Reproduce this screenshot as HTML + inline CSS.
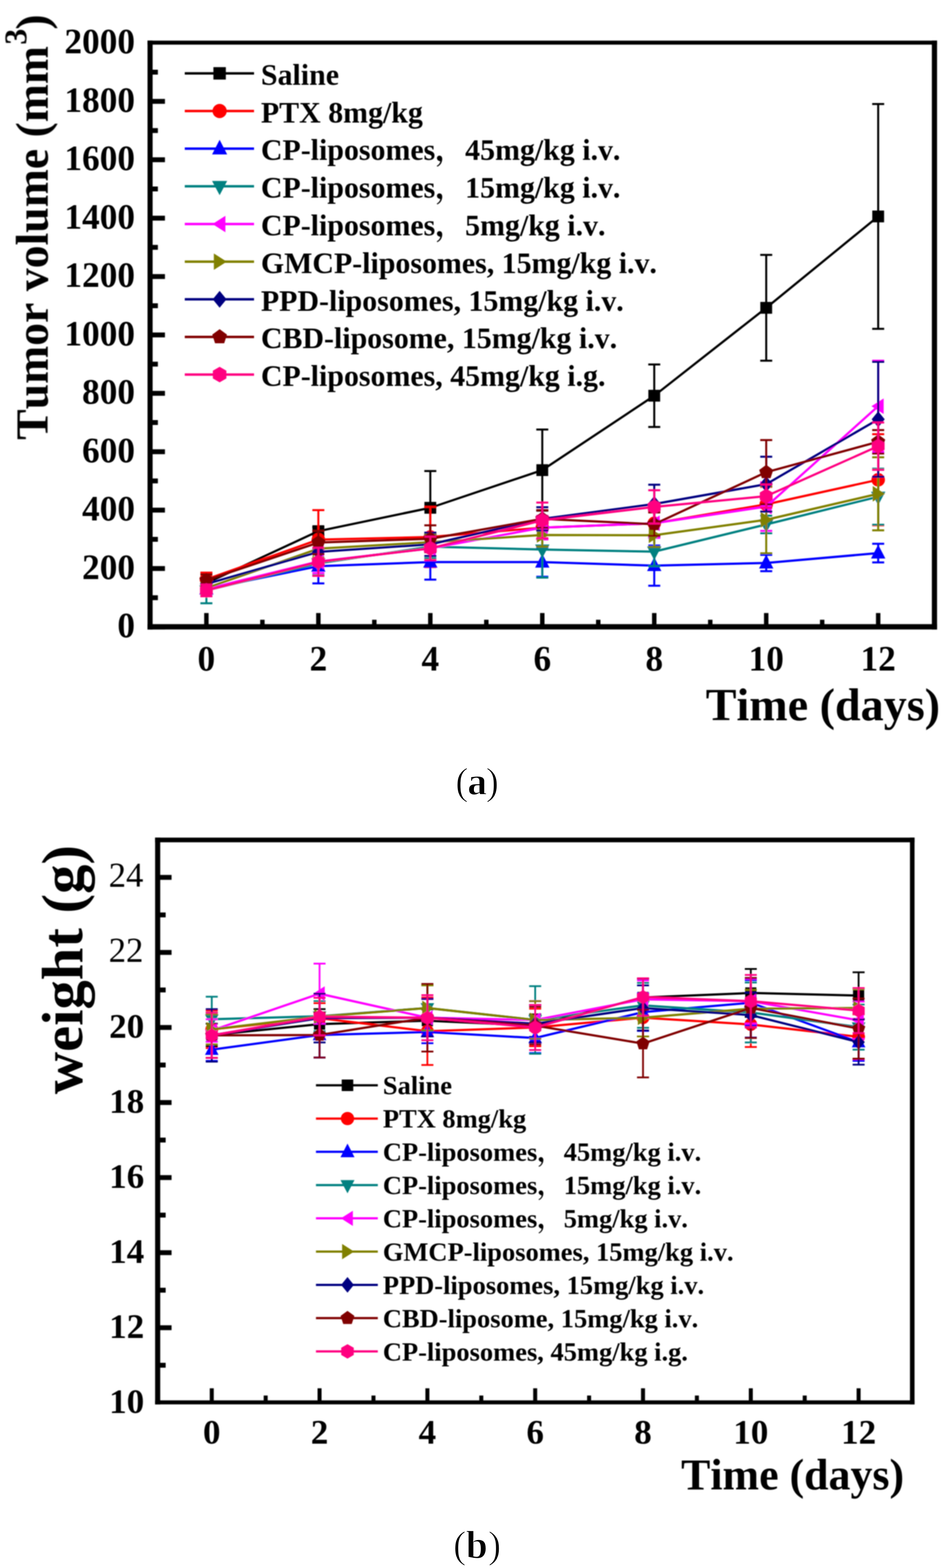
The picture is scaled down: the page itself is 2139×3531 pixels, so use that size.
<!DOCTYPE html>
<html><head><meta charset="utf-8"><title>Figure</title>
<style>html,body{margin:0;padding:0;background:#fff;overflow:hidden}svg{display:block}text{font-family:"Liberation Serif","Noto Serif CJK SC",serif;fill:#000;font-kerning:none}</style></head><body>
<svg width="2139" height="3531" viewBox="0 0 2139 3531">
<rect width="2139" height="3531" fill="#fff"/>
<defs><filter id="soft" x="0" y="0" width="2139" height="3531" filterUnits="userSpaceOnUse"><feGaussianBlur stdDeviation="1.2"/></filter></defs>
<g filter="url(#soft)">
<polyline points="464.7,1313.2 716.8,1196.1 968.9,1143.5 1221.0,1058.7 1473.1,891.1 1725.2,693.2 1977.3,487.4" fill="none" stroke="#000000" stroke-width="5" stroke-linejoin="round"/>
<path d="M464.7,1303.3V1323.0M451.2,1303.3H478.2M451.2,1323.0H478.2" stroke="#000000" stroke-width="4.5" fill="none"/>
<path d="M716.8,1186.9V1205.3M703.3,1186.9H730.3M703.3,1205.3H730.3" stroke="#000000" stroke-width="4.5" fill="none"/>
<path d="M968.9,1060.7V1226.4M955.4,1060.7H982.4M955.4,1226.4H982.4" stroke="#000000" stroke-width="4.5" fill="none"/>
<path d="M1221.0,967.3V1150.1M1207.5,967.3H1234.5M1207.5,1150.1H1234.5" stroke="#000000" stroke-width="4.5" fill="none"/>
<path d="M1473.1,820.7V961.4M1459.6,820.7H1486.6M1459.6,961.4H1486.6" stroke="#000000" stroke-width="4.5" fill="none"/>
<path d="M1725.2,574.1V812.2M1711.7,574.1H1738.7M1711.7,812.2H1738.7" stroke="#000000" stroke-width="4.5" fill="none"/>
<path d="M1977.3,234.2V740.5M1963.8,234.2H1990.8M1963.8,740.5H1990.8" stroke="#000000" stroke-width="4.5" fill="none"/>
<rect x="451.4" y="1299.9" width="26.6" height="26.6" fill="#000000"/>
<rect x="703.5" y="1182.8" width="26.6" height="26.6" fill="#000000"/>
<rect x="955.6" y="1130.2" width="26.6" height="26.6" fill="#000000"/>
<rect x="1207.7" y="1045.4" width="26.6" height="26.6" fill="#000000"/>
<rect x="1459.8" y="877.8" width="26.6" height="26.6" fill="#000000"/>
<rect x="1711.9" y="679.9" width="26.6" height="26.6" fill="#000000"/>
<rect x="1964.0" y="474.1" width="26.6" height="26.6" fill="#000000"/>
<polyline points="464.7,1304.6 716.8,1215.2 968.9,1209.3 1221.0,1188.2 1473.1,1178.4 1725.2,1135.7 1977.3,1080.4" fill="none" stroke="#FF0000" stroke-width="5" stroke-linejoin="round"/>
<path d="M464.7,1289.5V1319.8M451.2,1289.5H478.2M451.2,1319.8H478.2" stroke="#FF0000" stroke-width="4.5" fill="none"/>
<path d="M716.8,1148.8V1281.6M703.3,1148.8H730.3M703.3,1281.6H730.3" stroke="#FF0000" stroke-width="4.5" fill="none"/>
<path d="M968.9,1141.6V1277.0M955.4,1141.6H982.4M955.4,1277.0H982.4" stroke="#FF0000" stroke-width="4.5" fill="none"/>
<path d="M1221.0,1162.0V1214.5M1207.5,1162.0H1234.5M1207.5,1214.5H1234.5" stroke="#FF0000" stroke-width="4.5" fill="none"/>
<path d="M1473.1,1152.1V1204.7M1459.6,1152.1H1486.6M1459.6,1204.7H1486.6" stroke="#FF0000" stroke-width="4.5" fill="none"/>
<path d="M1725.2,1096.2V1175.1M1711.7,1096.2H1738.7M1711.7,1175.1H1738.7" stroke="#FF0000" stroke-width="4.5" fill="none"/>
<path d="M1977.3,977.8V1183.0M1963.8,977.8H1990.8M1963.8,1183.0H1990.8" stroke="#FF0000" stroke-width="4.5" fill="none"/>
<circle cx="464.7" cy="1304.6" r="15.2" fill="#FF0000"/>
<circle cx="716.8" cy="1215.2" r="15.2" fill="#FF0000"/>
<circle cx="968.9" cy="1209.3" r="15.2" fill="#FF0000"/>
<circle cx="1221.0" cy="1188.2" r="15.2" fill="#FF0000"/>
<circle cx="1473.1" cy="1178.4" r="15.2" fill="#FF0000"/>
<circle cx="1725.2" cy="1135.7" r="15.2" fill="#FF0000"/>
<circle cx="1977.3" cy="1080.4" r="15.2" fill="#FF0000"/>
<polyline points="464.7,1326.3 716.8,1275.0 968.9,1265.8 1221.0,1265.8 1473.1,1273.7 1725.2,1267.8 1977.3,1245.5" fill="none" stroke="#0000FF" stroke-width="5" stroke-linejoin="round"/>
<path d="M464.7,1313.2V1339.5M451.2,1313.2H478.2M451.2,1339.5H478.2" stroke="#0000FF" stroke-width="4.5" fill="none"/>
<path d="M716.8,1236.2V1313.8M703.3,1236.2H730.3M703.3,1313.8H730.3" stroke="#0000FF" stroke-width="4.5" fill="none"/>
<path d="M968.9,1226.4V1305.3M955.4,1226.4H982.4M955.4,1305.3H982.4" stroke="#0000FF" stroke-width="4.5" fill="none"/>
<path d="M1221.0,1233.0V1298.7M1207.5,1233.0H1234.5M1207.5,1298.7H1234.5" stroke="#0000FF" stroke-width="4.5" fill="none"/>
<path d="M1473.1,1228.4V1319.1M1459.6,1228.4H1486.6M1459.6,1319.1H1486.6" stroke="#0000FF" stroke-width="4.5" fill="none"/>
<path d="M1725.2,1249.4V1286.2M1711.7,1249.4H1738.7M1711.7,1286.2H1738.7" stroke="#0000FF" stroke-width="4.5" fill="none"/>
<path d="M1977.3,1224.4V1266.5M1963.8,1224.4H1990.8M1963.8,1266.5H1990.8" stroke="#0000FF" stroke-width="4.5" fill="none"/>
<polygon points="464.7,1307.3 480.8,1338.7 448.6,1338.7" fill="#0000FF"/>
<polygon points="716.8,1256.0 732.9,1287.4 700.6,1287.4" fill="#0000FF"/>
<polygon points="968.9,1246.8 985.0,1278.2 952.8,1278.2" fill="#0000FF"/>
<polygon points="1221.0,1246.8 1237.2,1278.2 1204.8,1278.2" fill="#0000FF"/>
<polygon points="1473.1,1254.7 1489.2,1286.1 1456.9,1286.1" fill="#0000FF"/>
<polygon points="1725.2,1248.8 1741.4,1280.2 1709.0,1280.2" fill="#0000FF"/>
<polygon points="1977.3,1226.5 1993.5,1257.8 1961.1,1257.8" fill="#0000FF"/>
<polyline points="464.7,1329.6 716.8,1268.5 968.9,1231.0 1221.0,1237.6 1473.1,1242.2 1725.2,1181.0 1977.3,1118.6" fill="none" stroke="#008080" stroke-width="5" stroke-linejoin="round"/>
<path d="M464.7,1300.7V1358.5M451.2,1300.7H478.2M451.2,1358.5H478.2" stroke="#008080" stroke-width="4.5" fill="none"/>
<path d="M716.8,1242.2V1294.8M703.3,1242.2H730.3M703.3,1294.8H730.3" stroke="#008080" stroke-width="4.5" fill="none"/>
<path d="M968.9,1204.7V1257.3M955.4,1204.7H982.4M955.4,1257.3H982.4" stroke="#008080" stroke-width="4.5" fill="none"/>
<path d="M1221.0,1174.4V1300.7M1207.5,1174.4H1234.5M1207.5,1300.7H1234.5" stroke="#008080" stroke-width="4.5" fill="none"/>
<path d="M1473.1,1209.3V1275.0M1459.6,1209.3H1486.6M1459.6,1275.0H1486.6" stroke="#008080" stroke-width="4.5" fill="none"/>
<path d="M1725.2,1161.3V1200.7M1711.7,1161.3H1738.7M1711.7,1200.7H1738.7" stroke="#008080" stroke-width="4.5" fill="none"/>
<path d="M1977.3,1055.4V1181.7M1963.8,1055.4H1990.8M1963.8,1181.7H1990.8" stroke="#008080" stroke-width="4.5" fill="none"/>
<polygon points="464.7,1348.6 480.8,1318.2 448.6,1318.2" fill="#008080"/>
<polygon points="716.8,1287.5 732.9,1257.1 700.6,1257.1" fill="#008080"/>
<polygon points="968.9,1250.0 985.0,1219.6 952.8,1219.6" fill="#008080"/>
<polygon points="1221.0,1256.6 1237.2,1226.2 1204.8,1226.2" fill="#008080"/>
<polygon points="1473.1,1261.2 1489.2,1230.8 1456.9,1230.8" fill="#008080"/>
<polygon points="1725.2,1200.0 1741.4,1169.6 1709.0,1169.6" fill="#008080"/>
<polygon points="1977.3,1137.6 1993.5,1107.2 1961.1,1107.2" fill="#008080"/>
<polyline points="464.7,1326.3 716.8,1264.5 968.9,1234.9 1221.0,1188.2 1473.1,1178.4 1725.2,1140.9 1977.3,914.7" fill="none" stroke="#FF00FF" stroke-width="5" stroke-linejoin="round"/>
<path d="M464.7,1313.2V1339.5M451.2,1313.2H478.2M451.2,1339.5H478.2" stroke="#FF00FF" stroke-width="4.5" fill="none"/>
<path d="M716.8,1238.2V1290.8M703.3,1238.2H730.3M703.3,1290.8H730.3" stroke="#FF00FF" stroke-width="4.5" fill="none"/>
<path d="M968.9,1208.6V1261.2M955.4,1208.6H982.4M955.4,1261.2H982.4" stroke="#FF00FF" stroke-width="4.5" fill="none"/>
<path d="M1221.0,1162.0V1214.5M1207.5,1162.0H1234.5M1207.5,1214.5H1234.5" stroke="#FF00FF" stroke-width="4.5" fill="none"/>
<path d="M1473.1,1145.5V1211.3M1459.6,1145.5H1486.6M1459.6,1211.3H1486.6" stroke="#FF00FF" stroke-width="4.5" fill="none"/>
<path d="M1725.2,1086.3V1195.5M1711.7,1086.3H1738.7M1711.7,1195.5H1738.7" stroke="#FF00FF" stroke-width="4.5" fill="none"/>
<path d="M1977.3,812.2V1017.3M1963.8,812.2H1990.8M1963.8,1017.3H1990.8" stroke="#FF00FF" stroke-width="4.5" fill="none"/>
<polygon points="449.5,1326.3 477.1,1308.8 477.1,1343.9" fill="#FF00FF"/>
<polygon points="701.6,1264.5 729.1,1246.9 729.1,1282.1" fill="#FF00FF"/>
<polygon points="953.7,1234.9 981.2,1217.4 981.2,1252.5" fill="#FF00FF"/>
<polygon points="1205.8,1188.2 1233.3,1170.7 1233.3,1205.8" fill="#FF00FF"/>
<polygon points="1457.9,1178.4 1485.4,1160.8 1485.4,1196.0" fill="#FF00FF"/>
<polygon points="1710.0,1140.9 1737.5,1123.3 1737.5,1158.5" fill="#FF00FF"/>
<polygon points="1962.1,914.7 1989.6,897.2 1989.6,932.3" fill="#FF00FF"/>
<polyline points="464.7,1324.4 716.8,1235.6 968.9,1221.1 1221.0,1204.7 1473.1,1205.3 1725.2,1170.5 1977.3,1112.0" fill="none" stroke="#808000" stroke-width="5" stroke-linejoin="round"/>
<path d="M464.7,1311.2V1337.5M451.2,1311.2H478.2M451.2,1337.5H478.2" stroke="#808000" stroke-width="4.5" fill="none"/>
<path d="M716.8,1215.9V1255.3M703.3,1215.9H730.3M703.3,1255.3H730.3" stroke="#808000" stroke-width="4.5" fill="none"/>
<path d="M968.9,1201.4V1240.8M955.4,1201.4H982.4M955.4,1240.8H982.4" stroke="#808000" stroke-width="4.5" fill="none"/>
<path d="M1221.0,1178.4V1231.0M1207.5,1178.4H1234.5M1207.5,1231.0H1234.5" stroke="#808000" stroke-width="4.5" fill="none"/>
<path d="M1473.1,1179.0V1231.6M1459.6,1179.0H1486.6M1459.6,1231.6H1486.6" stroke="#808000" stroke-width="4.5" fill="none"/>
<path d="M1725.2,1094.9V1246.1M1711.7,1094.9H1738.7M1711.7,1246.1H1738.7" stroke="#808000" stroke-width="4.5" fill="none"/>
<path d="M1977.3,1029.8V1194.2M1963.8,1029.8H1990.8M1963.8,1194.2H1990.8" stroke="#808000" stroke-width="4.5" fill="none"/>
<polygon points="479.9,1324.4 452.3,1306.8 452.3,1341.9" fill="#808000"/>
<polygon points="732.0,1235.6 704.4,1218.0 704.4,1253.2" fill="#808000"/>
<polygon points="984.1,1221.1 956.5,1203.5 956.5,1238.7" fill="#808000"/>
<polygon points="1236.2,1204.7 1208.7,1187.1 1208.7,1222.3" fill="#808000"/>
<polygon points="1488.3,1205.3 1460.8,1187.8 1460.8,1222.9" fill="#808000"/>
<polygon points="1740.4,1170.5 1712.9,1152.9 1712.9,1188.1" fill="#808000"/>
<polygon points="1992.5,1112.0 1965.0,1094.4 1965.0,1129.6" fill="#808000"/>
<polyline points="464.7,1315.1 716.8,1242.8 968.9,1225.7 1221.0,1168.5 1473.1,1135.0 1725.2,1090.3 1977.3,944.3" fill="none" stroke="#000080" stroke-width="5" stroke-linejoin="round"/>
<path d="M464.7,1302.0V1328.3M451.2,1302.0H478.2M451.2,1328.3H478.2" stroke="#000080" stroke-width="4.5" fill="none"/>
<path d="M716.8,1216.5V1269.1M703.3,1216.5H730.3M703.3,1269.1H730.3" stroke="#000080" stroke-width="4.5" fill="none"/>
<path d="M968.9,1199.4V1252.0M955.4,1199.4H982.4M955.4,1252.0H982.4" stroke="#000080" stroke-width="4.5" fill="none"/>
<path d="M1221.0,1142.2V1194.8M1207.5,1142.2H1234.5M1207.5,1194.8H1234.5" stroke="#000080" stroke-width="4.5" fill="none"/>
<path d="M1473.1,1091.6V1178.4M1459.6,1091.6H1486.6M1459.6,1178.4H1486.6" stroke="#000080" stroke-width="4.5" fill="none"/>
<path d="M1725.2,1028.5V1152.1M1711.7,1028.5H1738.7M1711.7,1152.1H1738.7" stroke="#000080" stroke-width="4.5" fill="none"/>
<path d="M1977.3,814.8V1073.8M1963.8,814.8H1990.8M1963.8,1073.8H1990.8" stroke="#000080" stroke-width="4.5" fill="none"/>
<polygon points="464.7,1297.1 479.4,1315.1 464.7,1333.2 450.0,1315.1" fill="#000080"/>
<polygon points="716.8,1224.8 731.5,1242.8 716.8,1260.9 702.1,1242.8" fill="#000080"/>
<polygon points="968.9,1207.7 983.6,1225.7 968.9,1243.8 954.2,1225.7" fill="#000080"/>
<polygon points="1221.0,1150.5 1235.7,1168.5 1221.0,1186.6 1206.3,1168.5" fill="#000080"/>
<polygon points="1473.1,1116.9 1487.8,1135.0 1473.1,1153.0 1458.4,1135.0" fill="#000080"/>
<polygon points="1725.2,1072.2 1739.9,1090.3 1725.2,1108.3 1710.5,1090.3" fill="#000080"/>
<polygon points="1977.3,926.3 1992.0,944.3 1977.3,962.4 1962.6,944.3" fill="#000080"/>
<polyline points="464.7,1306.6 716.8,1221.8 968.9,1213.2 1221.0,1168.5 1473.1,1180.4 1725.2,1063.3 1977.3,994.9" fill="none" stroke="#800000" stroke-width="5" stroke-linejoin="round"/>
<path d="M464.7,1293.5V1319.8M451.2,1293.5H478.2M451.2,1319.8H478.2" stroke="#800000" stroke-width="4.5" fill="none"/>
<path d="M716.8,1195.5V1248.1M703.3,1195.5H730.3M703.3,1248.1H730.3" stroke="#800000" stroke-width="4.5" fill="none"/>
<path d="M968.9,1183.0V1243.5M955.4,1183.0H982.4M955.4,1243.5H982.4" stroke="#800000" stroke-width="4.5" fill="none"/>
<path d="M1221.0,1148.8V1188.2M1207.5,1148.8H1234.5M1207.5,1188.2H1234.5" stroke="#800000" stroke-width="4.5" fill="none"/>
<path d="M1473.1,1154.1V1206.7M1459.6,1154.1H1486.6M1459.6,1206.7H1486.6" stroke="#800000" stroke-width="4.5" fill="none"/>
<path d="M1725.2,991.0V1135.7M1711.7,991.0H1738.7M1711.7,1135.7H1738.7" stroke="#800000" stroke-width="4.5" fill="none"/>
<path d="M1977.3,968.6V1021.2M1963.8,968.6H1990.8M1963.8,1021.2H1990.8" stroke="#800000" stroke-width="4.5" fill="none"/>
<polygon points="464.7,1290.0 480.5,1301.5 474.5,1320.0 454.9,1320.0 448.9,1301.5" fill="#800000"/>
<polygon points="716.8,1205.2 732.6,1216.6 726.6,1235.2 707.0,1235.2 701.0,1216.6" fill="#800000"/>
<polygon points="968.9,1196.6 984.7,1208.1 978.7,1226.7 959.1,1226.7 953.1,1208.1" fill="#800000"/>
<polygon points="1221.0,1151.9 1236.8,1163.4 1230.8,1182.0 1211.2,1182.0 1205.2,1163.4" fill="#800000"/>
<polygon points="1473.1,1163.7 1488.9,1175.2 1482.9,1193.8 1463.3,1193.8 1457.3,1175.2" fill="#800000"/>
<polygon points="1725.2,1046.7 1741.0,1058.2 1735.0,1076.8 1715.4,1076.8 1709.4,1058.2" fill="#800000"/>
<polygon points="1977.3,978.3 1993.1,989.8 1987.1,1008.4 1967.5,1008.4 1961.5,989.8" fill="#800000"/>
<polyline points="464.7,1329.6 716.8,1265.2 968.9,1234.9 1221.0,1171.8 1473.1,1141.6 1725.2,1117.2 1977.3,1004.8" fill="none" stroke="#FF0080" stroke-width="5" stroke-linejoin="round"/>
<path d="M464.7,1316.5V1342.8M451.2,1316.5H478.2M451.2,1342.8H478.2" stroke="#FF0080" stroke-width="4.5" fill="none"/>
<path d="M716.8,1233.6V1296.7M703.3,1233.6H730.3M703.3,1296.7H730.3" stroke="#FF0080" stroke-width="4.5" fill="none"/>
<path d="M968.9,1208.6V1261.2M955.4,1208.6H982.4M955.4,1261.2H982.4" stroke="#FF0080" stroke-width="4.5" fill="none"/>
<path d="M1221.0,1131.7V1211.9M1207.5,1131.7H1234.5M1207.5,1211.9H1234.5" stroke="#FF0080" stroke-width="4.5" fill="none"/>
<path d="M1473.1,1104.1V1179.0M1459.6,1104.1H1486.6M1459.6,1179.0H1486.6" stroke="#FF0080" stroke-width="4.5" fill="none"/>
<path d="M1725.2,1090.9V1143.5M1711.7,1090.9H1738.7M1711.7,1143.5H1738.7" stroke="#FF0080" stroke-width="4.5" fill="none"/>
<path d="M1977.3,951.5V1058.1M1963.8,951.5H1990.8M1963.8,1058.1H1990.8" stroke="#FF0080" stroke-width="4.5" fill="none"/>
<polygon points="464.7,1313.0 479.1,1321.3 479.1,1337.9 464.7,1346.2 450.3,1337.9 450.3,1321.3" fill="#FF0080"/>
<polygon points="716.8,1248.6 731.2,1256.9 731.2,1273.5 716.8,1281.8 702.4,1273.5 702.4,1256.9" fill="#FF0080"/>
<polygon points="968.9,1218.3 983.3,1226.6 983.3,1243.2 968.9,1251.6 954.5,1243.2 954.5,1226.6" fill="#FF0080"/>
<polygon points="1221.0,1155.2 1235.4,1163.5 1235.4,1180.1 1221.0,1188.4 1206.6,1180.1 1206.6,1163.5" fill="#FF0080"/>
<polygon points="1473.1,1124.9 1487.5,1133.3 1487.5,1149.9 1473.1,1158.2 1458.7,1149.9 1458.7,1133.3" fill="#FF0080"/>
<polygon points="1725.2,1100.6 1739.6,1108.9 1739.6,1125.6 1725.2,1133.9 1710.8,1125.6 1710.8,1108.9" fill="#FF0080"/>
<polygon points="1977.3,988.2 1991.7,996.5 1991.7,1013.1 1977.3,1021.4 1962.9,1013.1 1962.9,996.5" fill="#FF0080"/>
<path d="M332.1,96H2109.8" stroke="#000" stroke-width="9"/>
<path d="M332.1,1411.4H2109.8" stroke="#000" stroke-width="12"/>
<path d="M337.9,91.5V1417.4" stroke="#000" stroke-width="11.5"/>
<path d="M2104,91.5V1417.4" stroke="#000" stroke-width="11.7"/>
<path d="M337.9,1411.8H371.4" stroke="#000" stroke-width="11"/>
<path d="M337.9,1346.0H355.5" stroke="#000" stroke-width="11"/>
<path d="M337.9,1280.3H371.4" stroke="#000" stroke-width="11"/>
<path d="M337.9,1214.5H355.5" stroke="#000" stroke-width="11"/>
<path d="M337.9,1148.8H371.4" stroke="#000" stroke-width="11"/>
<path d="M337.9,1083.0H355.5" stroke="#000" stroke-width="11"/>
<path d="M337.9,1017.3H371.4" stroke="#000" stroke-width="11"/>
<path d="M337.9,951.5H355.5" stroke="#000" stroke-width="11"/>
<path d="M337.9,885.8H371.4" stroke="#000" stroke-width="11"/>
<path d="M337.9,820.0H355.5" stroke="#000" stroke-width="11"/>
<path d="M337.9,754.3H371.4" stroke="#000" stroke-width="11"/>
<path d="M337.9,688.5H355.5" stroke="#000" stroke-width="11"/>
<path d="M337.9,622.8H371.4" stroke="#000" stroke-width="11"/>
<path d="M337.9,557.0H355.5" stroke="#000" stroke-width="11"/>
<path d="M337.9,491.3H371.4" stroke="#000" stroke-width="11"/>
<path d="M337.9,425.5H355.5" stroke="#000" stroke-width="11"/>
<path d="M337.9,359.8H371.4" stroke="#000" stroke-width="11"/>
<path d="M337.9,294.0H355.5" stroke="#000" stroke-width="11"/>
<path d="M337.9,228.3H371.4" stroke="#000" stroke-width="11"/>
<path d="M337.9,162.5H355.5" stroke="#000" stroke-width="11"/>
<path d="M464.7,1411.4V1380.5" stroke="#000" stroke-width="10"/>
<path d="M590.8,1411.4V1395.6" stroke="#000" stroke-width="10"/>
<path d="M716.8,1411.4V1380.5" stroke="#000" stroke-width="10"/>
<path d="M842.8,1411.4V1395.6" stroke="#000" stroke-width="10"/>
<path d="M968.9,1411.4V1380.5" stroke="#000" stroke-width="10"/>
<path d="M1095.0,1411.4V1395.6" stroke="#000" stroke-width="10"/>
<path d="M1221.0,1411.4V1380.5" stroke="#000" stroke-width="10"/>
<path d="M1347.0,1411.4V1395.6" stroke="#000" stroke-width="10"/>
<path d="M1473.1,1411.4V1380.5" stroke="#000" stroke-width="10"/>
<path d="M1599.2,1411.4V1395.6" stroke="#000" stroke-width="10"/>
<path d="M1725.2,1411.4V1380.5" stroke="#000" stroke-width="10"/>
<path d="M1851.2,1411.4V1395.6" stroke="#000" stroke-width="10"/>
<path d="M1977.3,1411.4V1380.5" stroke="#000" stroke-width="10"/>
<text x="304" y="1435.3" text-anchor="end" font-size="79.5" font-weight="bold">0</text>
<text x="304" y="1303.8" text-anchor="end" font-size="79.5" font-weight="bold">200</text>
<text x="304" y="1172.3" text-anchor="end" font-size="79.5" font-weight="bold">400</text>
<text x="304" y="1040.8" text-anchor="end" font-size="79.5" font-weight="bold">600</text>
<text x="304" y="909.3" text-anchor="end" font-size="79.5" font-weight="bold">800</text>
<text x="304" y="777.8" text-anchor="end" font-size="79.5" font-weight="bold">1000</text>
<text x="304" y="646.3" text-anchor="end" font-size="79.5" font-weight="bold">1200</text>
<text x="304" y="514.8" text-anchor="end" font-size="79.5" font-weight="bold">1400</text>
<text x="304" y="383.3" text-anchor="end" font-size="79.5" font-weight="bold">1600</text>
<text x="304" y="251.8" text-anchor="end" font-size="79.5" font-weight="bold">1800</text>
<text x="304" y="120.3" text-anchor="end" font-size="79.5" font-weight="bold">2000</text>
<text x="464.7" y="1510" text-anchor="middle" font-size="79.5" font-weight="bold">0</text>
<text x="716.8" y="1510" text-anchor="middle" font-size="79.5" font-weight="bold">2</text>
<text x="968.9" y="1510" text-anchor="middle" font-size="79.5" font-weight="bold">4</text>
<text x="1221.0" y="1510" text-anchor="middle" font-size="79.5" font-weight="bold">6</text>
<text x="1473.1" y="1510" text-anchor="middle" font-size="79.5" font-weight="bold">8</text>
<text x="1725.2" y="1510" text-anchor="middle" font-size="79.5" font-weight="bold">10</text>
<text x="1977.3" y="1510" text-anchor="middle" font-size="79.5" font-weight="bold">12</text>
<path d="M416,165.2H572" stroke="#000000" stroke-width="5.5"/>
<rect x="480.5" y="151.2" width="28.0" height="28.0" fill="#000000"/>
<text x="587.5" y="190.8" font-size="67.3" font-weight="bold">Saline</text>
<path d="M416,250.0H572" stroke="#FF0000" stroke-width="5.5"/>
<circle cx="494.5" cy="250.0" r="16.0" fill="#FF0000"/>
<text x="587.5" y="275.6" font-size="67.3" font-weight="bold">PTX 8mg/kg</text>
<path d="M416,334.8H572" stroke="#0000FF" stroke-width="5.5"/>
<polygon points="494.5,314.8 511.5,347.8 477.5,347.8" fill="#0000FF"/>
<text x="587.5" y="360.4" font-size="67.3" font-weight="bold">CP-liposomes，45mg/kg i.v.</text>
<path d="M416,419.6H572" stroke="#008080" stroke-width="5.5"/>
<polygon points="494.5,439.6 511.5,407.6 477.5,407.6" fill="#008080"/>
<text x="587.5" y="445.2" font-size="67.3" font-weight="bold">CP-liposomes，15mg/kg i.v.</text>
<path d="M416,504.4H572" stroke="#FF00FF" stroke-width="5.5"/>
<polygon points="478.5,504.4 507.5,485.9 507.5,522.9" fill="#FF00FF"/>
<text x="587.5" y="530.0" font-size="67.3" font-weight="bold">CP-liposomes，5mg/kg i.v.</text>
<path d="M416,589.2H572" stroke="#808000" stroke-width="5.5"/>
<polygon points="510.5,589.2 481.5,570.7 481.5,607.7" fill="#808000"/>
<text x="587.5" y="614.8" font-size="67.3" font-weight="bold">GMCP-liposomes, 15mg/kg i.v.</text>
<path d="M416,674.0H572" stroke="#000080" stroke-width="5.5"/>
<polygon points="494.5,655.0 510.0,674.0 494.5,693.0 479.0,674.0" fill="#000080"/>
<text x="587.5" y="699.6" font-size="67.3" font-weight="bold">PPD-liposomes, 15mg/kg i.v.</text>
<path d="M416,758.8H572" stroke="#800000" stroke-width="5.5"/>
<polygon points="494.5,741.3 511.1,753.4 504.8,773.0 484.2,773.0 477.9,753.4" fill="#800000"/>
<text x="587.5" y="784.4" font-size="67.3" font-weight="bold">CBD-liposome, 15mg/kg i.v.</text>
<path d="M416,843.6H572" stroke="#FF0080" stroke-width="5.5"/>
<polygon points="494.5,826.1 509.7,834.8 509.7,852.3 494.5,861.1 479.3,852.3 479.3,834.8" fill="#FF0080"/>
<text x="587.5" y="869.2" font-size="67.3" font-weight="bold">CP-liposomes, 45mg/kg i.g.</text>
<polyline points="476.8,2330.7 719.5,2306.2 962.3,2298.6 1205.0,2309.6 1447.8,2246.2 1690.5,2236.1 1933.2,2242.0" fill="none" stroke="#000000" stroke-width="5" stroke-linejoin="round"/>
<path d="M476.8,2305.3V2356.1M463.3,2305.3H490.3M463.3,2356.1H490.3" stroke="#000000" stroke-width="4" fill="none"/>
<path d="M719.5,2272.4V2340.0M706.0,2272.4H733.0M706.0,2340.0H733.0" stroke="#000000" stroke-width="4" fill="none"/>
<path d="M962.3,2273.2V2323.9M948.8,2273.2H975.8M948.8,2323.9H975.8" stroke="#000000" stroke-width="4" fill="none"/>
<path d="M1205.0,2284.2V2334.9M1191.5,2284.2H1218.5M1191.5,2334.9H1218.5" stroke="#000000" stroke-width="4" fill="none"/>
<path d="M1447.8,2203.9V2288.4M1434.3,2203.9H1461.3M1434.3,2288.4H1461.3" stroke="#000000" stroke-width="4" fill="none"/>
<path d="M1690.5,2182.0V2290.1M1677.0,2182.0H1704.0M1677.0,2290.1H1704.0" stroke="#000000" stroke-width="4" fill="none"/>
<path d="M1933.2,2189.6V2294.4M1919.7,2189.6H1946.7M1919.7,2294.4H1946.7" stroke="#000000" stroke-width="4" fill="none"/>
<rect x="464.2" y="2318.1" width="25.2" height="25.2" fill="#000000"/>
<rect x="706.9" y="2293.6" width="25.2" height="25.2" fill="#000000"/>
<rect x="949.7" y="2286.0" width="25.2" height="25.2" fill="#000000"/>
<rect x="1192.4" y="2297.0" width="25.2" height="25.2" fill="#000000"/>
<rect x="1435.2" y="2233.6" width="25.2" height="25.2" fill="#000000"/>
<rect x="1677.9" y="2223.5" width="25.2" height="25.2" fill="#000000"/>
<rect x="1920.6" y="2229.4" width="25.2" height="25.2" fill="#000000"/>
<polyline points="476.8,2318.0 719.5,2292.7 962.3,2322.3 1205.0,2313.8 1447.8,2291.8 1690.5,2307.0 1933.2,2334.9" fill="none" stroke="#FF0000" stroke-width="5" stroke-linejoin="round"/>
<path d="M476.8,2275.8V2360.3M463.3,2275.8H490.3M463.3,2360.3H490.3" stroke="#FF0000" stroke-width="4" fill="none"/>
<path d="M719.5,2258.9V2326.5M706.0,2258.9H733.0M706.0,2326.5H733.0" stroke="#FF0000" stroke-width="4" fill="none"/>
<path d="M962.3,2246.2V2398.3M948.8,2246.2H975.8M948.8,2398.3H975.8" stroke="#FF0000" stroke-width="4" fill="none"/>
<path d="M1205.0,2271.5V2356.1M1191.5,2271.5H1218.5M1191.5,2356.1H1218.5" stroke="#FF0000" stroke-width="4" fill="none"/>
<path d="M1447.8,2249.6V2334.1M1434.3,2249.6H1461.3M1434.3,2334.1H1461.3" stroke="#FF0000" stroke-width="4" fill="none"/>
<path d="M1690.5,2256.3V2357.7M1677.0,2256.3H1704.0M1677.0,2357.7H1704.0" stroke="#FF0000" stroke-width="4" fill="none"/>
<path d="M1933.2,2284.2V2385.6M1919.7,2284.2H1946.7M1919.7,2385.6H1946.7" stroke="#FF0000" stroke-width="4" fill="none"/>
<circle cx="476.8" cy="2318.0" r="14.4" fill="#FF0000"/>
<circle cx="719.5" cy="2292.7" r="14.4" fill="#FF0000"/>
<circle cx="962.3" cy="2322.3" r="14.4" fill="#FF0000"/>
<circle cx="1205.0" cy="2313.8" r="14.4" fill="#FF0000"/>
<circle cx="1447.8" cy="2291.8" r="14.4" fill="#FF0000"/>
<circle cx="1690.5" cy="2307.0" r="14.4" fill="#FF0000"/>
<circle cx="1933.2" cy="2334.9" r="14.4" fill="#FF0000"/>
<polyline points="476.8,2363.7 719.5,2330.7 962.3,2323.9 1205.0,2337.5 1447.8,2279.2 1690.5,2258.0 1933.2,2346.8" fill="none" stroke="#0000FF" stroke-width="5" stroke-linejoin="round"/>
<path d="M476.8,2338.3V2389.0M463.3,2338.3H490.3M463.3,2389.0H490.3" stroke="#0000FF" stroke-width="4" fill="none"/>
<path d="M719.5,2280.0V2381.4M706.0,2280.0H733.0M706.0,2381.4H733.0" stroke="#0000FF" stroke-width="4" fill="none"/>
<path d="M962.3,2298.6V2349.3M948.8,2298.6H975.8M948.8,2349.3H975.8" stroke="#0000FF" stroke-width="4" fill="none"/>
<path d="M1205.0,2303.7V2371.3M1191.5,2303.7H1218.5M1191.5,2371.3H1218.5" stroke="#0000FF" stroke-width="4" fill="none"/>
<path d="M1447.8,2236.9V2321.4M1434.3,2236.9H1461.3M1434.3,2321.4H1461.3" stroke="#0000FF" stroke-width="4" fill="none"/>
<path d="M1690.5,2207.3V2308.7M1677.0,2207.3H1704.0M1677.0,2308.7H1704.0" stroke="#0000FF" stroke-width="4" fill="none"/>
<path d="M1933.2,2304.5V2389.0M1919.7,2304.5H1946.7M1919.7,2389.0H1946.7" stroke="#0000FF" stroke-width="4" fill="none"/>
<polygon points="476.8,2345.7 492.1,2375.4 461.5,2375.4" fill="#0000FF"/>
<polygon points="719.5,2312.7 734.8,2342.4 704.2,2342.4" fill="#0000FF"/>
<polygon points="962.3,2305.9 977.6,2335.6 947.0,2335.6" fill="#0000FF"/>
<polygon points="1205.0,2319.5 1220.3,2349.2 1189.7,2349.2" fill="#0000FF"/>
<polygon points="1447.8,2261.2 1463.1,2290.9 1432.5,2290.9" fill="#0000FF"/>
<polygon points="1690.5,2240.0 1705.8,2269.7 1675.2,2269.7" fill="#0000FF"/>
<polygon points="1933.2,2328.8 1948.5,2358.5 1917.9,2358.5" fill="#0000FF"/>
<polyline points="476.8,2295.2 719.5,2288.4 962.3,2269.9 1205.0,2296.9 1447.8,2263.9 1690.5,2280.0 1933.2,2313.0" fill="none" stroke="#008080" stroke-width="5" stroke-linejoin="round"/>
<path d="M476.8,2244.5V2345.9M463.3,2244.5H490.3M463.3,2345.9H490.3" stroke="#008080" stroke-width="4" fill="none"/>
<path d="M719.5,2254.6V2322.3M706.0,2254.6H733.0M706.0,2322.3H733.0" stroke="#008080" stroke-width="4" fill="none"/>
<path d="M962.3,2219.1V2320.6M948.8,2219.1H975.8M948.8,2320.6H975.8" stroke="#008080" stroke-width="4" fill="none"/>
<path d="M1205.0,2220.8V2373.0M1191.5,2220.8H1218.5M1191.5,2373.0H1218.5" stroke="#008080" stroke-width="4" fill="none"/>
<path d="M1447.8,2213.2V2314.6M1434.3,2213.2H1461.3M1434.3,2314.6H1461.3" stroke="#008080" stroke-width="4" fill="none"/>
<path d="M1690.5,2212.4V2347.6M1677.0,2212.4H1704.0M1677.0,2347.6H1704.0" stroke="#008080" stroke-width="4" fill="none"/>
<path d="M1933.2,2262.2V2363.7M1919.7,2262.2H1946.7M1919.7,2363.7H1946.7" stroke="#008080" stroke-width="4" fill="none"/>
<polygon points="476.8,2313.2 492.1,2284.4 461.5,2284.4" fill="#008080"/>
<polygon points="719.5,2306.4 734.8,2277.6 704.2,2277.6" fill="#008080"/>
<polygon points="962.3,2287.9 977.6,2259.1 947.0,2259.1" fill="#008080"/>
<polygon points="1205.0,2314.9 1220.3,2286.1 1189.7,2286.1" fill="#008080"/>
<polygon points="1447.8,2281.9 1463.1,2253.1 1432.5,2253.1" fill="#008080"/>
<polygon points="1690.5,2298.0 1705.8,2269.2 1675.2,2269.2" fill="#008080"/>
<polygon points="1933.2,2331.0 1948.5,2302.2 1917.9,2302.2" fill="#008080"/>
<polyline points="476.8,2320.6 719.5,2237.7 962.3,2291.8 1205.0,2296.9 1447.8,2250.4 1690.5,2254.6 1933.2,2297.7" fill="none" stroke="#FF00FF" stroke-width="5" stroke-linejoin="round"/>
<path d="M476.8,2295.2V2345.9M463.3,2295.2H490.3M463.3,2345.9H490.3" stroke="#FF00FF" stroke-width="4" fill="none"/>
<path d="M719.5,2170.1V2305.3M706.0,2170.1H733.0M706.0,2305.3H733.0" stroke="#FF00FF" stroke-width="4" fill="none"/>
<path d="M962.3,2249.6V2334.1M948.8,2249.6H975.8M948.8,2334.1H975.8" stroke="#FF00FF" stroke-width="4" fill="none"/>
<path d="M1205.0,2254.6V2339.2M1191.5,2254.6H1218.5M1191.5,2339.2H1218.5" stroke="#FF00FF" stroke-width="4" fill="none"/>
<path d="M1447.8,2208.2V2292.7M1434.3,2208.2H1461.3M1434.3,2292.7H1461.3" stroke="#FF00FF" stroke-width="4" fill="none"/>
<path d="M1690.5,2203.9V2305.3M1677.0,2203.9H1704.0M1677.0,2305.3H1704.0" stroke="#FF00FF" stroke-width="4" fill="none"/>
<path d="M1933.2,2255.5V2340.0M1919.7,2255.5H1946.7M1919.7,2340.0H1946.7" stroke="#FF00FF" stroke-width="4" fill="none"/>
<polygon points="462.4,2320.6 488.5,2303.9 488.5,2337.2" fill="#FF00FF"/>
<polygon points="705.1,2237.7 731.2,2221.1 731.2,2254.4" fill="#FF00FF"/>
<polygon points="947.9,2291.8 974.0,2275.2 974.0,2308.5" fill="#FF00FF"/>
<polygon points="1190.6,2296.9 1216.7,2280.2 1216.7,2313.5" fill="#FF00FF"/>
<polygon points="1433.4,2250.4 1459.5,2233.8 1459.5,2267.1" fill="#FF00FF"/>
<polygon points="1676.1,2254.6 1702.2,2238.0 1702.2,2271.3" fill="#FF00FF"/>
<polygon points="1918.8,2297.7 1944.9,2281.1 1944.9,2314.4" fill="#FF00FF"/>
<polyline points="476.8,2318.0 719.5,2289.3 962.3,2269.9 1205.0,2296.9 1447.8,2291.8 1690.5,2271.5 1933.2,2269.9" fill="none" stroke="#808000" stroke-width="5" stroke-linejoin="round"/>
<path d="M476.8,2284.2V2351.8M463.3,2284.2H490.3M463.3,2351.8H490.3" stroke="#808000" stroke-width="4" fill="none"/>
<path d="M719.5,2247.0V2331.5M706.0,2247.0H733.0M706.0,2331.5H733.0" stroke="#808000" stroke-width="4" fill="none"/>
<path d="M962.3,2219.1V2320.6M948.8,2219.1H975.8M948.8,2320.6H975.8" stroke="#808000" stroke-width="4" fill="none"/>
<path d="M1205.0,2254.6V2339.2M1191.5,2254.6H1218.5M1191.5,2339.2H1218.5" stroke="#808000" stroke-width="4" fill="none"/>
<path d="M1447.8,2249.6V2334.1M1434.3,2249.6H1461.3M1434.3,2334.1H1461.3" stroke="#808000" stroke-width="4" fill="none"/>
<path d="M1690.5,2229.3V2313.8M1677.0,2229.3H1704.0M1677.0,2313.8H1704.0" stroke="#808000" stroke-width="4" fill="none"/>
<path d="M1933.2,2227.6V2312.1M1919.7,2227.6H1946.7M1919.7,2312.1H1946.7" stroke="#808000" stroke-width="4" fill="none"/>
<polygon points="491.2,2318.0 465.1,2301.4 465.1,2334.7" fill="#808000"/>
<polygon points="733.9,2289.3 707.8,2272.6 707.8,2305.9" fill="#808000"/>
<polygon points="976.7,2269.9 950.6,2253.2 950.6,2286.5" fill="#808000"/>
<polygon points="1219.4,2296.9 1193.3,2280.2 1193.3,2313.5" fill="#808000"/>
<polygon points="1462.2,2291.8 1436.1,2275.2 1436.1,2308.5" fill="#808000"/>
<polygon points="1704.9,2271.5 1678.8,2254.9 1678.8,2288.2" fill="#808000"/>
<polygon points="1947.6,2269.9 1921.5,2253.2 1921.5,2286.5" fill="#808000"/>
<polyline points="476.8,2331.5 719.5,2292.7 962.3,2291.8 1205.0,2305.3 1447.8,2269.9 1690.5,2285.9 1933.2,2346.8" fill="none" stroke="#000080" stroke-width="5" stroke-linejoin="round"/>
<path d="M476.8,2272.4V2390.7M463.3,2272.4H490.3M463.3,2390.7H490.3" stroke="#000080" stroke-width="4" fill="none"/>
<path d="M719.5,2237.7V2347.6M706.0,2237.7H733.0M706.0,2347.6H733.0" stroke="#000080" stroke-width="4" fill="none"/>
<path d="M962.3,2249.6V2334.1M948.8,2249.6H975.8M948.8,2334.1H975.8" stroke="#000080" stroke-width="4" fill="none"/>
<path d="M1205.0,2263.1V2347.6M1191.5,2263.1H1218.5M1191.5,2347.6H1218.5" stroke="#000080" stroke-width="4" fill="none"/>
<path d="M1447.8,2219.1V2320.6M1434.3,2219.1H1461.3M1434.3,2320.6H1461.3" stroke="#000080" stroke-width="4" fill="none"/>
<path d="M1690.5,2235.2V2336.6M1677.0,2235.2H1704.0M1677.0,2336.6H1704.0" stroke="#000080" stroke-width="4" fill="none"/>
<path d="M1933.2,2296.1V2397.5M1919.7,2296.1H1946.7M1919.7,2397.5H1946.7" stroke="#000080" stroke-width="4" fill="none"/>
<polygon points="476.8,2314.4 490.8,2331.5 476.8,2348.6 462.9,2331.5" fill="#000080"/>
<polygon points="719.5,2275.6 733.5,2292.7 719.5,2309.8 705.6,2292.7" fill="#000080"/>
<polygon points="962.3,2274.7 976.2,2291.8 962.3,2308.9 948.3,2291.8" fill="#000080"/>
<polygon points="1205.0,2288.2 1219.0,2305.3 1205.0,2322.4 1191.1,2305.3" fill="#000080"/>
<polygon points="1447.8,2252.8 1461.7,2269.9 1447.8,2287.0 1433.8,2269.9" fill="#000080"/>
<polygon points="1690.5,2268.8 1704.5,2285.9 1690.5,2303.0 1676.5,2285.9" fill="#000080"/>
<polygon points="1933.2,2329.7 1947.2,2346.8 1933.2,2363.9 1919.3,2346.8" fill="#000080"/>
<polyline points="476.8,2331.5 719.5,2330.7 962.3,2291.8 1205.0,2309.6 1447.8,2350.1 1690.5,2269.9 1933.2,2316.3" fill="none" stroke="#800000" stroke-width="5" stroke-linejoin="round"/>
<path d="M476.8,2280.8V2382.3M463.3,2280.8H490.3M463.3,2382.3H490.3" stroke="#800000" stroke-width="4" fill="none"/>
<path d="M719.5,2280.0V2381.4M706.0,2280.0H733.0M706.0,2381.4H733.0" stroke="#800000" stroke-width="4" fill="none"/>
<path d="M962.3,2215.8V2367.9M948.8,2215.8H975.8M948.8,2367.9H975.8" stroke="#800000" stroke-width="4" fill="none"/>
<path d="M1205.0,2267.3V2351.8M1191.5,2267.3H1218.5M1191.5,2351.8H1218.5" stroke="#800000" stroke-width="4" fill="none"/>
<path d="M1447.8,2274.1V2426.2M1434.3,2274.1H1461.3M1434.3,2426.2H1461.3" stroke="#800000" stroke-width="4" fill="none"/>
<path d="M1690.5,2202.2V2337.5M1677.0,2202.2H1704.0M1677.0,2337.5H1704.0" stroke="#800000" stroke-width="4" fill="none"/>
<path d="M1933.2,2248.7V2383.9M1919.7,2248.7H1946.7M1919.7,2383.9H1946.7" stroke="#800000" stroke-width="4" fill="none"/>
<polygon points="476.8,2315.8 491.8,2326.7 486.1,2344.3 467.5,2344.3 461.8,2326.7" fill="#800000"/>
<polygon points="719.5,2315.0 734.5,2325.8 728.8,2343.4 710.3,2343.4 704.6,2325.8" fill="#800000"/>
<polygon points="962.3,2276.1 977.3,2287.0 971.5,2304.6 953.0,2304.6 947.3,2287.0" fill="#800000"/>
<polygon points="1205.0,2293.8 1220.0,2304.7 1214.3,2322.3 1195.8,2322.3 1190.0,2304.7" fill="#800000"/>
<polygon points="1447.8,2334.4 1462.7,2345.3 1457.0,2362.9 1438.5,2362.9 1432.8,2345.3" fill="#800000"/>
<polygon points="1690.5,2254.1 1705.5,2265.0 1699.8,2282.6 1681.2,2282.6 1675.5,2265.0" fill="#800000"/>
<polygon points="1933.2,2300.6 1948.2,2311.5 1942.5,2329.1 1924.0,2329.1 1918.3,2311.5" fill="#800000"/>
<polyline points="476.8,2331.5 719.5,2289.3 962.3,2291.8 1205.0,2313.8 1447.8,2245.3 1690.5,2254.6 1933.2,2275.8" fill="none" stroke="#FF0080" stroke-width="5" stroke-linejoin="round"/>
<path d="M476.8,2280.8V2382.3M463.3,2280.8H490.3M463.3,2382.3H490.3" stroke="#FF0080" stroke-width="4" fill="none"/>
<path d="M719.5,2247.0V2331.5M706.0,2247.0H733.0M706.0,2331.5H733.0" stroke="#FF0080" stroke-width="4" fill="none"/>
<path d="M962.3,2241.1V2342.5M948.8,2241.1H975.8M948.8,2342.5H975.8" stroke="#FF0080" stroke-width="4" fill="none"/>
<path d="M1205.0,2263.1V2364.5M1191.5,2263.1H1218.5M1191.5,2364.5H1218.5" stroke="#FF0080" stroke-width="4" fill="none"/>
<path d="M1447.8,2203.1V2287.6M1434.3,2203.1H1461.3M1434.3,2287.6H1461.3" stroke="#FF0080" stroke-width="4" fill="none"/>
<path d="M1690.5,2195.5V2313.8M1677.0,2195.5H1704.0M1677.0,2313.8H1704.0" stroke="#FF0080" stroke-width="4" fill="none"/>
<path d="M1933.2,2225.1V2326.5M1919.7,2225.1H1946.7M1919.7,2326.5H1946.7" stroke="#FF0080" stroke-width="4" fill="none"/>
<polygon points="476.8,2315.8 490.4,2323.7 490.4,2339.4 476.8,2347.3 463.2,2339.4 463.2,2323.7" fill="#FF0080"/>
<polygon points="719.5,2273.5 733.2,2281.4 733.2,2297.2 719.5,2305.0 705.9,2297.2 705.9,2281.4" fill="#FF0080"/>
<polygon points="962.3,2276.1 975.9,2284.0 975.9,2299.7 962.3,2307.6 948.6,2299.7 948.6,2284.0" fill="#FF0080"/>
<polygon points="1205.0,2298.1 1218.7,2305.9 1218.7,2321.7 1205.0,2329.6 1191.4,2321.7 1191.4,2305.9" fill="#FF0080"/>
<polygon points="1447.8,2229.6 1461.4,2237.5 1461.4,2253.2 1447.8,2261.1 1434.1,2253.2 1434.1,2237.5" fill="#FF0080"/>
<polygon points="1690.5,2238.9 1704.1,2246.8 1704.1,2262.5 1690.5,2270.4 1676.9,2262.5 1676.9,2246.8" fill="#FF0080"/>
<polygon points="1933.2,2260.0 1946.9,2267.9 1946.9,2283.6 1933.2,2291.5 1919.6,2283.6 1919.6,2267.9" fill="#FF0080"/>
<path d="M349.2,1891.5H2059.2" stroke="#000" stroke-width="10.5"/>
<path d="M349.2,3158H2059.2" stroke="#000" stroke-width="9"/>
<path d="M355,1886.2V3162.5" stroke="#000" stroke-width="11.5"/>
<path d="M2054,1886.2V3162.5" stroke="#000" stroke-width="10.3"/>
<path d="M355,3074.4H373" stroke="#000" stroke-width="11"/>
<path d="M355,2989.9H386.3" stroke="#000" stroke-width="11"/>
<path d="M355,2905.4H373" stroke="#000" stroke-width="11"/>
<path d="M355,2820.9H386.3" stroke="#000" stroke-width="11"/>
<path d="M355,2736.3H373" stroke="#000" stroke-width="11"/>
<path d="M355,2651.8H386.3" stroke="#000" stroke-width="11"/>
<path d="M355,2567.3H373" stroke="#000" stroke-width="11"/>
<path d="M355,2482.8H386.3" stroke="#000" stroke-width="11"/>
<path d="M355,2398.3H373" stroke="#000" stroke-width="11"/>
<path d="M355,2313.8H386.3" stroke="#000" stroke-width="11"/>
<path d="M355,2229.3H373" stroke="#000" stroke-width="11"/>
<path d="M355,2144.8H386.3" stroke="#000" stroke-width="11"/>
<path d="M355,2060.3H373" stroke="#000" stroke-width="11"/>
<path d="M355,1975.8H386.3" stroke="#000" stroke-width="11"/>
<path d="M476.8,3158V3126.3" stroke="#000" stroke-width="9"/>
<path d="M598.2,3158V3142.6" stroke="#000" stroke-width="9"/>
<path d="M719.5,3158V3126.3" stroke="#000" stroke-width="9"/>
<path d="M840.9,3158V3142.6" stroke="#000" stroke-width="9"/>
<path d="M962.3,3158V3126.3" stroke="#000" stroke-width="9"/>
<path d="M1083.7,3158V3142.6" stroke="#000" stroke-width="9"/>
<path d="M1205.0,3158V3126.3" stroke="#000" stroke-width="9"/>
<path d="M1326.4,3158V3142.6" stroke="#000" stroke-width="9"/>
<path d="M1447.8,3158V3126.3" stroke="#000" stroke-width="9"/>
<path d="M1569.1,3158V3142.6" stroke="#000" stroke-width="9"/>
<path d="M1690.5,3158V3126.3" stroke="#000" stroke-width="9"/>
<path d="M1811.9,3158V3142.6" stroke="#000" stroke-width="9"/>
<path d="M1933.2,3158V3126.3" stroke="#000" stroke-width="9"/>
<text x="324.7" y="3181.6" text-anchor="end" font-size="79" font-weight="bold">10</text>
<text x="324.7" y="3012.6" text-anchor="end" font-size="79" font-weight="bold">12</text>
<text x="324.7" y="2843.6" text-anchor="end" font-size="79" font-weight="bold">14</text>
<text x="324.7" y="2674.5" text-anchor="end" font-size="79" font-weight="bold">16</text>
<text x="324.7" y="2505.5" text-anchor="end" font-size="79" font-weight="bold">18</text>
<text x="324.7" y="2336.5" text-anchor="end" font-size="79" font-weight="bold">20</text>
<text x="322.7" y="2165.0" text-anchor="end" font-size="78" font-weight="normal">22</text>
<text x="322.7" y="1996.0" text-anchor="end" font-size="78" font-weight="normal">24</text>
<text x="476.8" y="3251" text-anchor="middle" font-size="79" font-weight="bold">0</text>
<text x="719.5" y="3251" text-anchor="middle" font-size="79" font-weight="bold">2</text>
<text x="962.3" y="3251" text-anchor="middle" font-size="79" font-weight="bold">4</text>
<text x="1205.0" y="3251" text-anchor="middle" font-size="79" font-weight="bold">6</text>
<text x="1447.8" y="3251" text-anchor="middle" font-size="79" font-weight="bold">8</text>
<text x="1690.5" y="3251" text-anchor="middle" font-size="79" font-weight="bold">10</text>
<text x="1933.2" y="3251" text-anchor="middle" font-size="79" font-weight="bold">12</text>
<path d="M711.4,2444.0H850.7" stroke="#000000" stroke-width="5"/>
<rect x="769.4" y="2431.0" width="26.0" height="26.0" fill="#000000"/>
<text x="862" y="2464.3" font-size="59.6" font-weight="bold">Saline</text>
<path d="M711.4,2518.9H850.7" stroke="#FF0000" stroke-width="5"/>
<circle cx="782.4" cy="2518.9" r="14.9" fill="#FF0000"/>
<text x="862" y="2539.2" font-size="59.6" font-weight="bold">PTX 8mg/kg</text>
<path d="M711.4,2593.8H850.7" stroke="#0000FF" stroke-width="5"/>
<polygon points="782.4,2575.2 798.2,2605.9 766.6,2605.9" fill="#0000FF"/>
<text x="862" y="2614.1" font-size="59.6" font-weight="bold">CP-liposomes，45mg/kg i.v.</text>
<path d="M711.4,2668.7H850.7" stroke="#008080" stroke-width="5"/>
<polygon points="782.4,2687.3 798.2,2657.5 766.6,2657.5" fill="#008080"/>
<text x="862" y="2689.0" font-size="59.6" font-weight="bold">CP-liposomes，15mg/kg i.v.</text>
<path d="M711.4,2743.6H850.7" stroke="#FF00FF" stroke-width="5"/>
<polygon points="767.5,2743.6 794.5,2726.4 794.5,2760.8" fill="#FF00FF"/>
<text x="862" y="2763.9" font-size="59.6" font-weight="bold">CP-liposomes，5mg/kg i.v.</text>
<path d="M711.4,2818.5H850.7" stroke="#808000" stroke-width="5"/>
<polygon points="797.3,2818.5 770.3,2801.3 770.3,2835.7" fill="#808000"/>
<text x="862" y="2838.8" font-size="59.6" font-weight="bold">GMCP-liposomes, 15mg/kg i.v.</text>
<path d="M711.4,2893.4H850.7" stroke="#000080" stroke-width="5"/>
<polygon points="782.4,2875.7 796.8,2893.4 782.4,2911.1 768.0,2893.4" fill="#000080"/>
<text x="862" y="2913.7" font-size="59.6" font-weight="bold">PPD-liposomes, 15mg/kg i.v.</text>
<path d="M711.4,2968.3H850.7" stroke="#800000" stroke-width="5"/>
<polygon points="782.4,2952.0 797.9,2963.3 792.0,2981.5 772.8,2981.5 766.9,2963.3" fill="#800000"/>
<text x="862" y="2988.6" font-size="59.6" font-weight="bold">CBD-liposome, 15mg/kg i.v.</text>
<path d="M711.4,3043.2H850.7" stroke="#FF0080" stroke-width="5"/>
<polygon points="782.4,3026.9 796.5,3035.1 796.5,3051.3 782.4,3059.5 768.3,3051.3 768.3,3035.1" fill="#FF0080"/>
<text x="862" y="3063.5" font-size="59.6" font-weight="bold">CP-liposomes, 45mg/kg i.g.</text>
<text transform="translate(107.5,990.5) rotate(-90)" font-size="103" font-weight="bold">Tumor volume (mm<tspan font-size="72" dx="3" dy="-48">3</tspan><tspan dx="-2" dy="48">)</tspan></text>
<text x="1589" y="1622" font-size="103.8" font-weight="bold">Time (days)</text>
<text transform="translate(185,2464) rotate(-90)" font-size="132" font-weight="bold">weight (g)</text>
<text x="1533.5" y="3354" font-size="98.8" font-weight="bold">Time (days)</text>
</g>
<g stroke="#fff" stroke-width="1.6">
<text x="1025.4" y="1789.4" font-size="87">(</text><text x="1052.5" y="1789" font-size="88" font-weight="bold">a</text><text x="1093.9" y="1789.4" font-size="87">)</text>
<text x="1020.4" y="3507.9" font-size="87">(</text><text x="1049" y="3508.5" font-size="88" font-weight="bold">b</text><text x="1098.9" y="3507.9" font-size="87">)</text>
</g>
</svg></body></html>
